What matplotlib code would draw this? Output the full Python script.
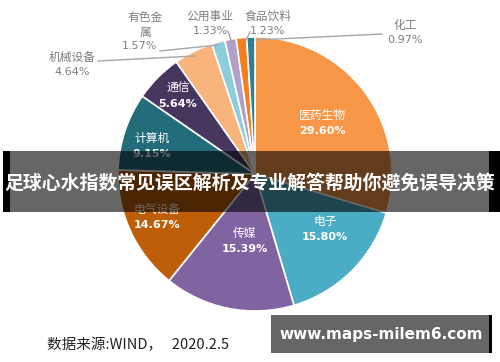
import matplotlib.pyplot as plt
from matplotlib.patches import Rectangle

plt.rcParams['font.family'] = ['Noto Sans CJK SC', 'DejaVu Sans']

# sector data, clockwise from 12 o'clock
sectors = ['医药生物', '电子', '传媒', '电气设备', '计算机', '通信',
           '机械设备', '有色金属', '公用事业', '食品饮料', '化工']
shares = [29.60, 15.80, 15.39, 14.67, 9.15, 5.64, 4.64, 1.57, 1.33, 1.23, 0.97]
colors = ['#F79646', '#4BACC6', '#8064A2', '#BF5E08', '#236C7C', '#47375F',
          '#F9B47C', '#8DCCDB', '#B1A0C7', '#F47E20', '#2E7F93']

title = '足球心水指数常见误区解析及专业解答帮助你避免误导决策'
source = '数据来源:WIND，   2020.2.5'
watermark = 'www.maps-milem6.com'

fig = plt.figure(figsize=(5, 3.62), dpi=100)
ax = fig.add_axes([0, 0, 1, 1])

# y axis runs downward, so flip the pie direction
ax.pie(shares, colors=colors, startangle=-90, counterclock=True,
       center=(255, 174), radius=137,
       wedgeprops=dict(edgecolor='white', linewidth=1.2), frame=True)
ax.set_xlim(0, 500)
ax.set_ylim(362, 0)
ax.set_aspect('equal')
ax.axis('off')

# labels inside the big slices
inner_pos = {'医药生物': (322, 115), '电子': (325, 221), '传媒': (245, 233),
             '电气设备': (157, 209), '计算机': (152, 138), '通信': (178, 88)}
for name, val in zip(sectors, shares):
    if name in inner_pos:
        x, y = inner_pos[name]
        ax.text(x, y, name, color='white', fontsize=8.5, ha='center', va='center')
        ax.text(x, y + 16, f'{val:.2f}%', color='white', fontsize=8, ha='center',
                va='center', fontweight='bold', family='DejaVu Sans')

# outside labels with leader lines
grey = '#7F7F7F'
outer = {
    '机械设备': ((72, 57), [(98, 61), (195, 56)]),
    '有色金属': ((145, 17), [(160, 51), (218, 45)]),
    '公用事业': ((210, 16), [(228, 31), (232, 43)]),
    '食品饮料': ((268, 16), [(250, 32), (246, 40)]),
    '化工': ((405, 25), [(382, 34), (256, 40)]),
}
for name, val in zip(sectors, shares):
    if name not in outer:
        continue
    (x, y), line = outer[name]
    ax.plot([p[0] for p in line], [p[1] for p in line], color='#A6A6A6', lw=1)
    if name == '有色金属':
        ax.text(x, y, '有色金', color=grey, fontsize=8.5, ha='center', va='center')
        ax.text(x, y + 15, '属', color=grey, fontsize=8.5, ha='center', va='center')
        ax.text(x - 5, y + 29, f'{val:.2f}%', color=grey, fontsize=8, ha='center',
                va='center', family='DejaVu Sans')
    else:
        ax.text(x, y, name, color=grey, fontsize=8.5, ha='center', va='center')
        ax.text(x, y + 15, f'{val:.2f}%', color=grey, fontsize=8, ha='center',
                va='center', family='DejaVu Sans')

# title banner across the middle
ax.add_patch(Rectangle((3, 151), 497, 61, color='black', alpha=0.6, lw=0, zorder=5))
ax.add_patch(Rectangle((3, 151), 7, 61, color='black', lw=0, zorder=5))
ax.add_patch(Rectangle((489, 151), 11, 61, color='black', lw=0, zorder=5))
ax.text(250, 183, title, color='white', fontsize=13.6, fontweight='bold',
        ha='center', va='center', zorder=6)

# source note
ax.text(47, 345, source, color='#222222', fontsize=10.5, ha='left', va='center')

# watermark box
ax.add_patch(Rectangle((271, 315), 218, 38, color='#666666', lw=0, zorder=5))
ax.add_patch(Rectangle((489, 315), 3, 38, color='black', lw=0, zorder=5))
ax.text(381, 334, watermark, color='white', fontsize=11, fontweight='bold',
        ha='center', va='center', family='DejaVu Sans', zorder=6)

fig.savefig('out.png', dpi=100)
